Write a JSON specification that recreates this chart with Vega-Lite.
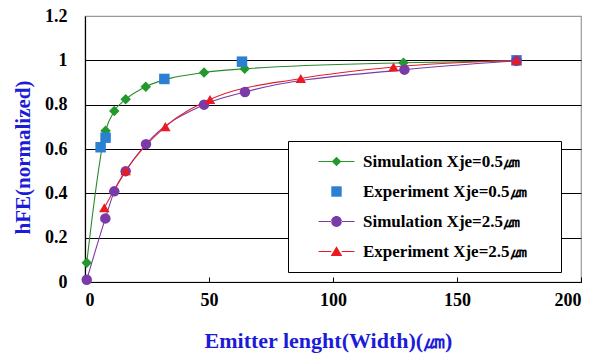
{
  "$schema": "https://vega.github.io/schema/vega-lite/v6.json",
  "width": 496,
  "height": 266,
  "autosize": {"type": "none"},
  "padding": {"left": 85, "top": 16, "right": 25, "bottom": 77},
  "background": "white",
  "config": {
    "font": "Liberation Serif",
    "view": {"stroke": "#999999", "strokeWidth": 1.2}
  },
  "data": {
    "values": [
      {"series": "Simulation Xje=0.5㎛", "x": 0.7, "y": 0.087},
      {"series": "Simulation Xje=0.5㎛", "x": 8.3, "y": 0.682},
      {"series": "Simulation Xje=0.5㎛", "x": 11.8, "y": 0.771},
      {"series": "Simulation Xje=0.5㎛", "x": 16.4, "y": 0.824},
      {"series": "Simulation Xje=0.5㎛", "x": 24.5, "y": 0.881},
      {"series": "Simulation Xje=0.5㎛", "x": 48, "y": 0.945},
      {"series": "Simulation Xje=0.5㎛", "x": 64.4, "y": 0.962},
      {"series": "Simulation Xje=0.5㎛", "x": 128.4, "y": 0.989},
      {"series": "Simulation Xje=0.5㎛", "x": 174, "y": 0.998},
      {"series": "Experiment Xje=0.5㎛", "x": 6.3, "y": 0.608},
      {"series": "Experiment Xje=0.5㎛", "x": 8.3, "y": 0.651},
      {"series": "Experiment Xje=0.5㎛", "x": 32, "y": 0.916},
      {"series": "Experiment Xje=0.5㎛", "x": 63.3, "y": 0.994},
      {"series": "Experiment Xje=0.5㎛", "x": 174, "y": 1.0},
      {"series": "Simulation Xje=2.5㎛", "x": 0.7, "y": 0.01},
      {"series": "Simulation Xje=2.5㎛", "x": 8.2, "y": 0.287},
      {"series": "Simulation Xje=2.5㎛", "x": 11.8, "y": 0.409},
      {"series": "Simulation Xje=2.5㎛", "x": 16.4, "y": 0.5},
      {"series": "Simulation Xje=2.5㎛", "x": 24.6, "y": 0.622},
      {"series": "Simulation Xje=2.5㎛", "x": 48, "y": 0.8},
      {"series": "Simulation Xje=2.5㎛", "x": 64.5, "y": 0.857},
      {"series": "Simulation Xje=2.5㎛", "x": 128.8, "y": 0.958},
      {"series": "Simulation Xje=2.5㎛", "x": 174, "y": 0.998},
      {"series": "Experiment Xje=2.5㎛", "x": 7.8, "y": 0.335},
      {"series": "Experiment Xje=2.5㎛", "x": 16.4, "y": 0.502},
      {"series": "Experiment Xje=2.5㎛", "x": 32.4, "y": 0.701},
      {"series": "Experiment Xje=2.5㎛", "x": 50.4, "y": 0.823},
      {"series": "Experiment Xje=2.5㎛", "x": 87, "y": 0.918},
      {"series": "Experiment Xje=2.5㎛", "x": 124.4, "y": 0.97},
      {"series": "Experiment Xje=2.5㎛", "x": 174, "y": 1.0}
    ]
  },
  "encoding": {
    "x": {
      "field": "x",
      "type": "quantitative",
      "scale": {"domain": [0, 200], "nice": false, "zero": false},
      "axis": {
        "values": [0, 50, 100, 150, 200],
        "grid": false,
        "domainColor": "black",
        "domainWidth": 1.2,
        "tickColor": "black",
        "tickSize": -5,
        "labelFont": "Liberation Serif",
        "labelFontWeight": "bold",
        "labelFontSize": 18,
        "labelColor": "black",
        "labelPadding": 14,
        "title": "Emitter lenght(Width)(㎛)",
        "titleFont": "Liberation Serif",
        "titleFontWeight": "bold",
        "titleFontSize": 22,
        "titleColor": "#1c1cd8",
        "titleBaseline": "alphabetic",
        "titleX": 243,
        "titleY": 65
      }
    },
    "y": {
      "field": "y",
      "type": "quantitative",
      "scale": {"domain": [0, 1.2], "nice": false},
      "axis": {
        "values": [0, 0.2, 0.4, 0.6, 0.8, 1, 1.2],
        "format": "~g",
        "grid": true,
        "gridColor": {"condition": {"test": "datum.value >= 1.19", "value": "#999999"}, "value": "black"},
        "gridWidth": 1.2,
        "domainColor": "black",
        "domainWidth": 1.2,
        "ticks": false,
        "labelFont": "Liberation Serif",
        "labelFontWeight": "bold",
        "labelFontSize": 18,
        "labelColor": "black",
        "labelPadding": 18,
        "title": "hFE(normalized)",
        "titleFont": "Liberation Serif",
        "titleFontWeight": "bold",
        "titleFontSize": 21,
        "titleColor": "#1c1cd8",
        "titleBaseline": "middle",
        "titleX": -62,
        "titleY": 141
      }
    }
  },
  "layer": [
    {
      "transform": [{"filter": "datum.series != 'Experiment Xje=0.5㎛'"}],
      "mark": {"type": "line", "interpolate": "monotone", "strokeWidth": 1.1},
      "encoding": {
        "color": {
          "field": "series",
          "type": "nominal",
          "scale": {
            "domain": ["Simulation Xje=0.5㎛", "Experiment Xje=0.5㎛", "Simulation Xje=2.5㎛", "Experiment Xje=2.5㎛"],
            "range": ["#2a8a2a", "#2b7fd0", "#7a3aa8", "#e0202a"]
          },
          "legend": null
        }
      }
    },
    {
      "mark": {"type": "point", "filled": true, "opacity": 1},
      "encoding": {
        "color": {
          "field": "series",
          "type": "nominal",
          "scale": {
            "domain": ["Simulation Xje=0.5㎛", "Experiment Xje=0.5㎛", "Simulation Xje=2.5㎛", "Experiment Xje=2.5㎛"],
            "range": ["#22992a", "#2b80d2", "#7a3aa8", "#ea1a22"]
          },
          "legend": null
        },
        "shape": {
          "field": "series",
          "type": "nominal",
          "scale": {
            "domain": ["Simulation Xje=0.5㎛", "Experiment Xje=0.5㎛", "Simulation Xje=2.5㎛", "Experiment Xje=2.5㎛"],
            "range": ["diamond", "square", "circle", "triangle-up"]
          },
          "legend": null
        },
        "size": {"value": 110}
      }
    },
    {
      "transform": [{"filter": "false"}],
      "mark": {"type": "point", "filled": true, "opacity": 1},
      "encoding": {
        "color": {
          "field": "series",
          "type": "nominal",
          "scale": {
            "domain": ["Simulation Xje=0.5㎛", "Experiment Xje=0.5㎛", "Simulation Xje=2.5㎛", "Experiment Xje=2.5㎛"],
            "range": ["#22992a", "#2b80d2", "#7a3aa8", "#ea1a22"]
          },
          "legend": {
            "orient": "none",
            "legendX": 203,
            "legendY": 125,
            "title": "\u2003",
            "titleOrient": "right",
            "titlePadding": 22,
            "titleFontSize": 6,
            "padding": 12,
            "strokeColor": "black",
            "fillColor": "white",
            "labelFont": "Liberation Serif",
            "labelFontWeight": "bold",
            "labelFontSize": 17,
            "labelColor": "black",
            "labelLimit": 400,
            "labelOffset": 18,
            "symbolOffset": 28,
            "rowPadding": 12,
            "symbolSize": 64
          }
        },
        "shape": {
          "field": "series",
          "type": "nominal",
          "scale": {
            "domain": ["Simulation Xje=0.5㎛", "Experiment Xje=0.5㎛", "Simulation Xje=2.5㎛", "Experiment Xje=2.5㎛"],
            "range": [
              "M-4.5,-0.14H-1V0.14H-4.5Z M1,-0.14H4.5V0.14H1Z M0,-1.2L1.2,0L0,1.2L-1.2,0Z",
              "M-1.3,-1.3H1.3V1.3H-1.3Z",
              "M-4.5,-0.14H-1.2V0.14H-4.5Z M1.2,-0.14H4.5V0.14H1.2Z M-1.35,0A1.35,1.35 0 1,0 1.35,0A1.35,1.35 0 1,0 -1.35,0Z",
              "M-4.5,-0.14H-1.3V0.14H-4.5Z M1.3,-0.14H4.5V0.14H1.3Z M0,-1.3L1.45,1.1L-1.45,1.1Z"
            ]
          },
          "legend": {
            "orient": "none",
            "legendX": 203,
            "legendY": 125,
            "title": "\u2003"
          }
        },
        "size": {"value": 64}
      }
    }
  ],
  "resolve": {"scale": {"color": "independent", "shape": "independent"}}
}
